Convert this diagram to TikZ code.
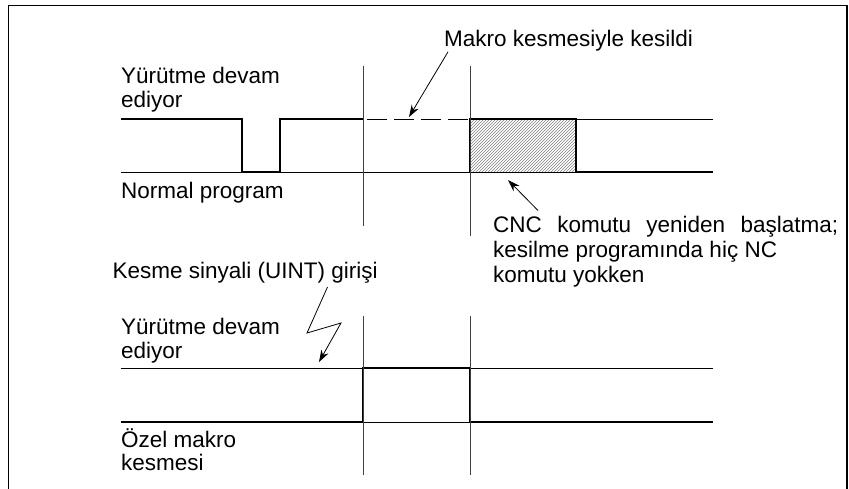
\documentclass[tikz,border=0pt]{standalone}
\usepackage{fontspec}
\setmainfont{Liberation Sans}
\usetikzlibrary{arrows.meta,patterns}

\begin{document}
\begin{tikzpicture}[x=1pt,y=-1pt]

\tikzset{sigline/.style={line width=2.4pt, line join=miter}}
\tikzset{refline/.style={line width=0.9pt}}
\tikzset{vline/.style={line width=0.9pt, black!75}}
\tikzset{lbl/.style={anchor=base west, inner sep=0pt, font=\fontsize{22.5}{24.5}\selectfont}}
\tikzset{callout/.style={line width=0.8pt, -{Stealth[length=12pt,width=8pt]}}}

\useasboundingbox (0,0) rectangle (849,489);
\draw[line width=1.8pt] (8.5,489) |- (847,5.5) -- (847,489);

% upper chart
\draw[refline] (121,172) -- (576,172);
\draw[refline] (576,119) -- (713,119);
\draw[refline, dash pattern=on 20pt off 7pt, dash phase=23pt] (363,119) -- (470,119);
\draw[sigline] (121,119) -| (242,172) -| (280,119) -- (363,119);
\draw[sigline, pattern=north east lines, pattern color=gray] (470,172) |- (576,119) |- (713,172);
\draw[vline] (363,66) -- (363,226);
\draw[vline] (470,66) -- (470,236);

\node[lbl] (runA1) at (121,84) {Yürütme devam};
\node[lbl] (runA2) at (121,108) {ediyor};
\node[lbl] (normal) at (121,199) {Normal program};
\node[lbl] (macro) at (444,47) {Makro kesmesiyle kesildi};
\node[lbl] (cnc1) at (493,233) {\makebox[345pt][s]{CNC komutu yeniden başlatma;}};
\node[lbl] (cnc2) at (493,258) {kesilme programında hiç NC};
\node[lbl] (cnc3) at (493,283) {komutu yokken};

\coordinate (cut) at (409,117);
\coordinate (restart) at (508,180);
\draw[callout] ([xshift=4pt]macro.south west) -- (cut);
\draw[callout] ([xshift=45pt,yshift=6pt]cnc1.north west) -- (restart);

% lower chart
\draw[refline] (121,368) -- (363,368);
\draw[refline] (470,368) -- (713,368);
\draw[refline] (363,422) -- (470,422);
\draw[sigline] (121,422) -| (363,368) -| (470,422) -- (713,422);
\draw[vline] (363,316) -- (363,475);
\draw[vline] (470,316) -- (470,475);

\node[lbl] (uint) at (112.5,279) {Kesme sinyali (UINT) girişi};
\node[lbl] (runB1) at (121,334) {Yürütme devam};
\node[lbl] (runB2) at (121,358) {ediyor};
\node[lbl] (special1) at (121,447) {Özel makro};
\node[lbl] (special2) at (121,470) {kesmesi};

\coordinate (zigA) at (307,333);
\coordinate (zigB) at (341,323);
\coordinate (uintin) at (319,362);
\draw[callout] ([xshift=215pt,yshift=-8pt]uint.base west) -- (zigA) -- (zigB) -- (uintin);

\end{tikzpicture}
\end{document}
